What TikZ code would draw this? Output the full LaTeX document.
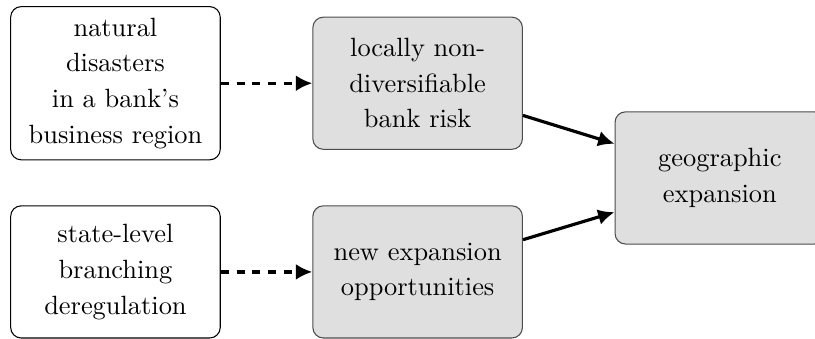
\documentclass[tikz,border=0pt]{standalone}
\usepackage{amsmath}
\usepackage{xcolor}
\usepackage{tikz}
\usetikzlibrary{arrows.meta}

\begin{document}
\begin{tikzpicture}[every node/.style={rectangle, rounded corners=4pt, draw, align=center, minimum width=2.79cm, minimum height=1.76cm, font=\fontsize{10}{13.5}\selectfont},
  cause/.style={fill=white, draw=black},
  effect/.style={fill=gray!25, draw=black!70},
  link/.style={line width=1.2pt, -{Latex[length=6.2pt,width=6pt]}}]
\useasboundingbox (0,0) rectangle (10.85,-4.5);
\node[cause, minimum height=2.04cm] (A) at (1.537,-1.108) {natural\\disasters\\in a bank's\\business region};
\node[effect] (B) at (5.560,-1.108) {locally non-\\diversifiable\\bank risk};
\node[cause] (C) at (1.537,-3.620) {state-level\\branching\\deregulation};
\node[effect] (D) at (5.560,-3.620) {new expansion\\opportunities};
\node[effect] (E) at (9.583,-2.369) {geographic\\expansion};

\draw[link, dashed] (A) -- (B);
\draw[link, dashed] (C) -- (D);
\draw[link] (B.-17) -- (E.162);
\draw[link] (D.17) -- (E.198);
\end{tikzpicture}
\end{document}
